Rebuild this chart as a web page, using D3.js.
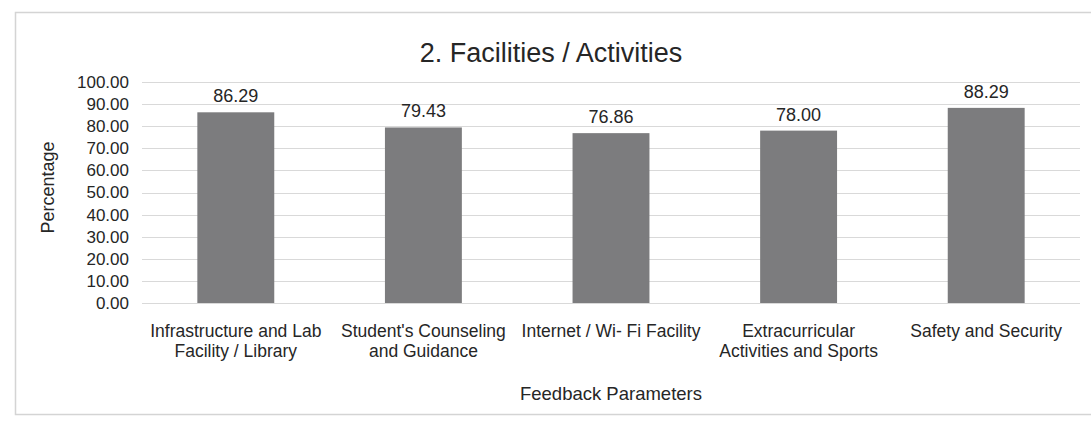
<!DOCTYPE html>
<html>
<head>
<meta charset="utf-8">
<script src="https://cdn.jsdelivr.net/npm/d3@7"></script>
<style>
  html, body { margin: 0; padding: 0; background: #fff; }
  svg { display: block; font-family: "Liberation Sans", Arial, sans-serif; }
</style>
</head>
<body>
<svg id="chart" width="1091" height="430"></svg>
<script>
const title = "2. Facilities / Activities";
const categories = [
  ["Infrastructure and Lab", "Facility / Library"],
  ["Student's Counseling", "and Guidance"],
  ["Internet / Wi- Fi Facility"],
  ["Extracurricular", "Activities and Sports"],
  ["Safety and Security"]
];
const values = [86.29, 79.43, 76.86, 78.00, 88.29];
const yTicks = [0, 10, 20, 30, 40, 50, 60, 70, 80, 90, 100];
const yTitle = "Percentage";
const xTitle = "Feedback Parameters";

const svg = d3.select("#chart");
const plot = { left: 142, right: 1080, top: 82, bottom: 303 };

// chart frame
svg.append("rect")
  .attr("x", 15.5).attr("y", 12.5)
  .attr("width", 1100).attr("height", 402)
  .attr("fill", "none").attr("stroke", "#d4d4d4").attr("stroke-width", 1.5);

const x = d3.scaleBand()
  .domain(d3.range(categories.length))
  .range([plot.left, plot.right])
  .paddingInner(0.59).paddingOuter(0.295);

const y = d3.scaleLinear().domain([0, 100]).range([plot.bottom, plot.top]);

// gridlines
svg.append("g")
  .selectAll("line")
  .data(yTicks)
  .join("line")
  .attr("x1", plot.left).attr("x2", plot.right)
  .attr("y1", d => Math.round(y(d)) + 0.5).attr("y2", d => Math.round(y(d)) + 0.5)
  .attr("stroke", "#d9d9d9").attr("stroke-width", 1);

// y axis labels
const yAxis = d3.axisLeft(y).tickValues(yTicks).tickFormat(d3.format(".2f")).tickSize(0).tickPadding(0);
const gy = svg.append("g").attr("transform", `translate(${plot.left - 13},0)`).call(yAxis);
gy.select(".domain").remove();
gy.selectAll("text")
  .attr("font-size", 17)
  .attr("font-family", "'Liberation Sans', Arial, sans-serif")
  .attr("fill", "#262626");

// bars
svg.append("g")
  .selectAll("rect")
  .data(values)
  .join("rect")
  .attr("x", (d, i) => x(i))
  .attr("y", d => y(d))
  .attr("width", x.bandwidth())
  .attr("height", d => y(0) - y(d))
  .attr("fill", "#7c7c7e");

// value labels
svg.append("g")
  .selectAll("text")
  .data(values)
  .join("text")
  .attr("x", (d, i) => x(i) + x.bandwidth() / 2)
  .attr("y", d => y(d) - 10)
  .attr("text-anchor", "middle")
  .attr("font-size", 18)
  .attr("fill", "#262626")
  .text(d => d3.format(".2f")(d));

// category labels
const xAxis = d3.axisBottom(x).tickSize(0).tickFormat("");
const gx = svg.append("g").attr("transform", `translate(0,${plot.bottom})`).call(xAxis);
gx.select(".domain").remove();
gx.selectAll(".tick").each(function(i) {
  const t = d3.select(this).append("text")
    .attr("text-anchor", "middle")
    .attr("font-size", 17.5)
    .attr("fill", "#262626");
  categories[i].forEach((line, k) => {
    t.append("tspan").attr("x", 0).attr("y", 34 + k * 20).text(line);
  });
});

// title
svg.append("text")
  .attr("x", 551).attr("y", 62)
  .attr("text-anchor", "middle")
  .attr("font-size", 27)
  .attr("fill", "#262626")
  .text(title);

// axis titles
svg.append("text")
  .attr("x", (plot.left + plot.right) / 2).attr("y", 400)
  .attr("text-anchor", "middle")
  .attr("font-size", 18.5)
  .attr("fill", "#262626")
  .text(xTitle);

svg.append("text")
  .attr("transform", `translate(54,${(plot.top + plot.bottom) / 2 - 5}) rotate(-90)`)
  .attr("text-anchor", "middle")
  .attr("font-size", 18)
  .attr("fill", "#262626")
  .text(yTitle);
</script>
</body>
</html>
